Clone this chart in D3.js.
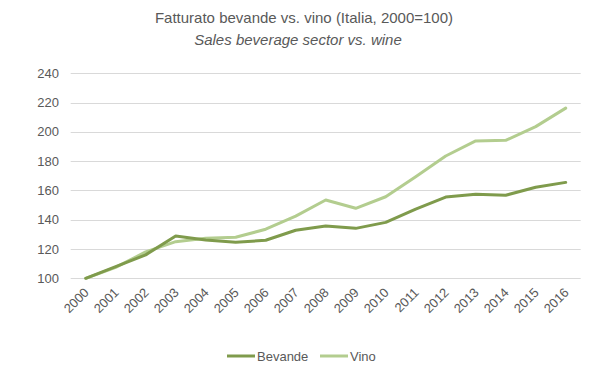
<!DOCTYPE html>
<html><head><meta charset="utf-8">
<script src="https://cdn.jsdelivr.net/npm/d3@7"></script>
<style>body{margin:0;background:#fff;}svg{display:block;}</style>
</head><body>
<svg id="c" width="598" height="378"></svg>
<script>
const years = ["2000","2001","2002","2003","2004","2005","2006","2007","2008","2009","2010","2011","2012","2013","2014","2015","2016"];
const bevande = [100,108,116,128.9,126.2,124.6,126,132.8,135.7,134.1,138.2,147.3,155.5,157.4,156.7,162.2,165.5];
const vino = [100,107.5,118,125,127.3,128,133.5,142.5,153.5,147.8,155.7,169.4,183.5,193.8,194.2,203.6,216.2];
const yTicks = [100,120,140,160,180,200,220,240];
const seriesNames = ["Bevande","Vino"];
const colors = ["#7f9b4c","#b3cd8f"];

(function(){
const svg = d3.select("#c");
const font = "'Liberation Sans', Arial, sans-serif";
const mLeft = 70.7, mRight = 580.7, mTop = 73.3, mBottom = 278.3;
const x = d3.scaleBand().domain(years).range([mLeft, mRight]);
const y = d3.scaleLinear().domain([100,240]).range([mBottom, mTop]);

// title
svg.append("text").attr("x",304).attr("y",23).attr("text-anchor","middle")
  .attr("font-family",font).attr("font-size",15).attr("fill","#595959")
  .text("Fatturato bevande vs. vino (Italia, 2000=100)");
svg.append("text").attr("x",298).attr("y",45).attr("text-anchor","middle")
  .attr("font-family",font).attr("font-size",15).attr("font-style","italic").attr("fill","#595959")
  .text("Sales beverage sector vs. wine");

// grid
svg.append("g").selectAll("line").data(yTicks).join("line")
  .attr("x1",mLeft).attr("x2",mRight)
  .attr("y1",d=>Math.round(y(d))+0.5).attr("y2",d=>Math.round(y(d))+0.5)
  .attr("stroke","#d9d9d9").attr("stroke-width",1);

// y labels
svg.append("g").selectAll("text").data(yTicks).join("text")
  .attr("x",59).attr("y",d=>y(d)+4.5).attr("text-anchor","end")
  .attr("font-family",font).attr("font-size",13).attr("fill","#595959")
  .text(d=>d);

// x labels
svg.append("g").selectAll("text").data(years).join("text")
  .attr("transform",d=>`translate(${x(d)+x.bandwidth()/2+4},${mBottom+15}) rotate(-45)`)
  .attr("text-anchor","end")
  .attr("font-family",font).attr("font-size",13).attr("fill","#595959")
  .text(d=>d);

// lines
const line = d3.line().x((d,i)=>x(years[i])+x.bandwidth()/2).y(d=>y(d));
[[vino,colors[1]],[bevande,colors[0]]].forEach(([s,c])=>{
  svg.append("path").datum(s).attr("d",line).attr("fill","none")
    .attr("stroke",c).attr("stroke-width",3).attr("stroke-linejoin","round").attr("stroke-linecap","round");
});

// legend
const leg = [{n:seriesNames[0],c:colors[0],x:227},{n:seriesNames[1],c:colors[1],x:320}];
leg.forEach(l=>{
  svg.append("line").attr("x1",l.x).attr("x2",l.x+28).attr("y1",356).attr("y2",356)
    .attr("stroke",l.c).attr("stroke-width",3);
  svg.append("text").attr("x",l.x+30).attr("y",360.5)
    .attr("font-family",font).attr("font-size",13).attr("fill","#595959").text(l.n);
});
})();
</script>
</body></html>
